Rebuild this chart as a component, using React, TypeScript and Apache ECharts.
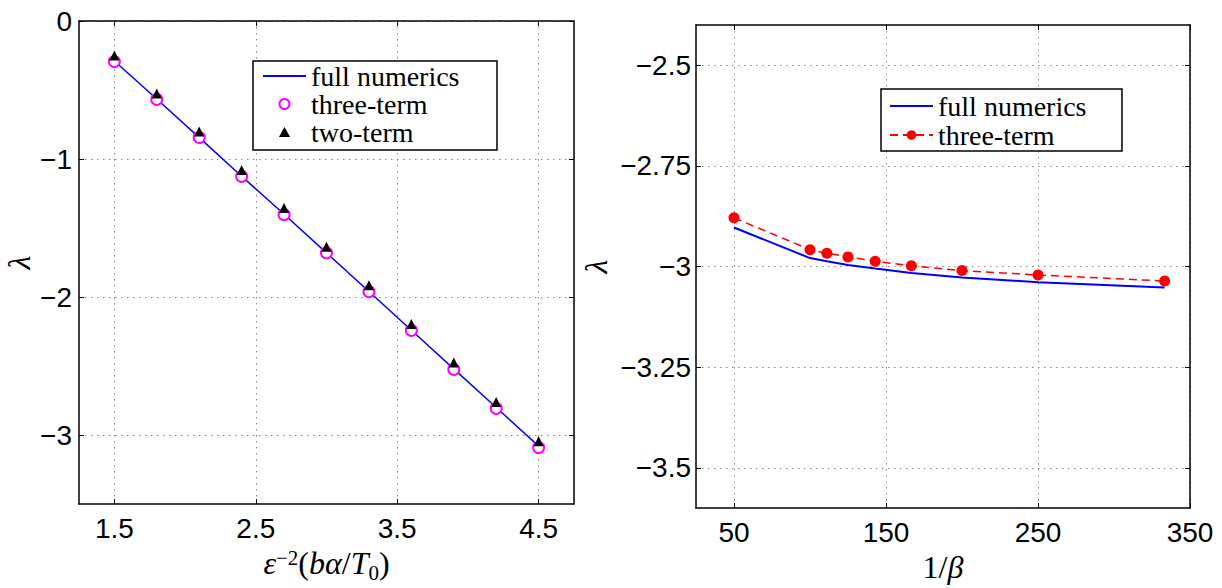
import React, { useEffect, useRef } from 'react';
import * as echarts from 'echarts';

// Left panel data
const leftX = [1.5, 1.8, 2.1, 2.4, 2.7, 3.0, 3.3, 3.6, 3.9, 4.2, 4.5];
const leftFull = [-0.29, -0.565, -0.845, -1.125, -1.4, -1.68, -1.96, -2.24, -2.52, -2.8, -3.08];
const leftThree = [-0.294, -0.568, -0.844, -1.126, -1.403, -1.68, -1.961, -2.242, -2.524, -2.807, -3.09];
const leftTwo = [-0.25, -0.525, -0.8, -1.08, -1.355, -1.635, -1.915, -2.195, -2.475, -2.76, -3.045];

// Right panel data
const rightX = [50, 100, 111.1, 125, 142.9, 166.7, 200, 250, 333.3];
const rightFull = [-2.903, -2.979, -2.987, -2.996, -3.005, -3.016, -3.027, -3.039, -3.052];
const rightThree = [-2.879, -2.958, -2.967, -2.976, -2.987, -2.998, -3.01, -3.021, -3.036];

// Tick labels
const leftXTicks = [1.5, 2.5, 3.5, 4.5];
const leftYTicks = [0, -1, -2, -3];
const rightXTicks = [50, 150, 250, 350];
const rightYTicks = [-2.5, -2.75, -3, -3.25, -3.5];

const leftLegend = ['full numerics', 'three-term', 'two-term'];
const rightLegend = ['R: full numerics', 'R: three-term'];

const zip = (xs: number[], ys: number[]) => xs.map((x, i) => [x, ys[i]]);
const fmt = (v: number) => String(v).replace('-', '\u2212');

const SANS = '"Liberation Sans", Arial, Helvetica, sans-serif';
const SERIF = '"Liberation Serif", "Times New Roman", serif';

function mainAxis(gridIndex: number, min: number, max: number, ticks: number[], extra: any) {
  return {
    type: 'value',
    gridIndex,
    min,
    max,
    axisLine: { show: true, onZero: false, lineStyle: { color: '#000', width: 1.5 } },
    axisTick: { show: true, inside: true, length: 5, customValues: ticks, lineStyle: { color: '#000', width: 1 } },
    axisLabel: {
      show: true,
      customValues: ticks,
      formatter: (v: number) => fmt(v),
      fontSize: 28,
      fontFamily: SANS,
      color: '#000',
      margin: 10,
    },
    splitLine: { show: true, lineStyle: { color: '#888', width: 1, type: [1.5, 4.5] } },
    ...extra,
  };
}

function sideAxis(gridIndex: number, min: number, max: number, ticks: number[], position: string) {
  return {
    type: 'value',
    gridIndex,
    min,
    max,
    position,
    axisLine: { show: true, onZero: false, lineStyle: { color: '#000', width: 1.5 } },
    axisTick: { show: true, inside: true, length: 5, customValues: ticks, lineStyle: { color: '#000', width: 1 } },
    axisLabel: { show: false },
    splitLine: { show: false },
  };
}

export default function App() {
  const ref = useRef<HTMLDivElement>(null);
  useEffect(() => {
    document.body.style.margin = '0';
    if (!ref.current) return;
    const chart = echarts.init(ref.current, undefined, { renderer: 'svg' });
    const legendText = { fontFamily: SERIF, fontSize: 28, lineHeight: 26, color: '#000' };
    const hideDot = { opacity: 0 };
    const option: any = {
      animation: false,
      backgroundColor: '#fff',
      grid: [
        { left: 79, top: 21, width: 495, height: 495 },
        { left: 696, top: 25, width: 494, height: 493 },
      ],
      xAxis: [
        mainAxis(0, 1.25, 4.75, leftXTicks, {
          position: 'bottom',
          name: '{it|\u03b5}{sup|\u22122}{n|(}{it|b\u03b1}{n|/}{it|T}{sub|0}{n|)}',
          nameLocation: 'middle',
          nameGap: 42,
          nameTextStyle: {
            fontFamily: SERIF,
            fontSize: 32,
            color: '#000',
            rich: {
              it: { fontFamily: SERIF, fontSize: 32, fontStyle: 'italic', color: '#000', verticalAlign: 'bottom' },
              n: { fontFamily: SERIF, fontSize: 32, color: '#000', verticalAlign: 'bottom' },
              sup: { fontFamily: SERIF, fontSize: 21, color: '#000', verticalAlign: 'top' },
              sub: { fontFamily: SERIF, fontSize: 21, color: '#000', verticalAlign: 'bottom', padding: [0, 0, -4, 0] },
            },
          },
        }),
        sideAxis(0, 1.25, 4.75, leftXTicks, 'top'),
        mainAxis(1, 25, 350, rightXTicks, {
          position: 'bottom',
          name: '{n|1/}{it|\u03b2}',
          nameLocation: 'middle',
          nameGap: 42,
          nameTextStyle: {
            fontFamily: SERIF,
            fontSize: 32,
            color: '#000',
            rich: {
              it: { fontFamily: SERIF, fontSize: 32, fontStyle: 'italic', color: '#000' },
              n: { fontFamily: SERIF, fontSize: 32, color: '#000' },
            },
          },
        }),
        sideAxis(1, 25, 350, rightXTicks, 'top'),
      ],
      yAxis: [
        mainAxis(0, -3.5, 0, leftYTicks, {
          position: 'left',
          name: '\u03bb',
          nameLocation: 'middle',
          nameGap: 44,
          nameTextStyle: { fontFamily: SERIF, fontSize: 32, fontStyle: 'italic', color: '#000' },
          axisLabel: {
            show: true,
            customValues: leftYTicks,
            formatter: (v: number) => fmt(v),
            fontSize: 28,
            fontFamily: SANS,
            color: '#000',
            margin: 7,
          },
        }),
        sideAxis(0, -3.5, 0, leftYTicks, 'right'),
        mainAxis(1, -3.6, -2.4, rightYTicks, {
          position: 'left',
          name: '\u03bb',
          nameLocation: 'middle',
          nameGap: 84,
          nameTextStyle: { fontFamily: SERIF, fontSize: 32, fontStyle: 'italic', color: '#000' },
          axisLabel: {
            show: true,
            customValues: rightYTicks,
            formatter: (v: number) => fmt(v),
            fontSize: 28,
            fontFamily: SANS,
            color: '#000',
            margin: 5,
          },
        }),
        sideAxis(1, -3.6, -2.4, rightYTicks, 'right'),
      ],
      legend: [
        {
          orient: 'vertical',
          left: 262,
          top: 62,
          padding: 0,
          itemGap: 0,
          itemWidth: 43,
          itemHeight: 10,
          data: [
            { name: leftLegend[0], itemStyle: hideDot },
            { name: leftLegend[1] },
            { name: leftLegend[2], icon: 'path://M5,0L10,9L0,9Z' },
          ],
          textStyle: legendText,
          selectedMode: false,
        },
        {
          orient: 'vertical',
          left: 889,
          top: 92,
          padding: 0,
          itemGap: 1,
          itemWidth: 43,
          itemHeight: 12,
          data: [{ name: rightLegend[0], itemStyle: hideDot }, { name: rightLegend[1] }],
          formatter: (n: string) => n.replace('R: ', ''),
          textStyle: legendText,
          selectedMode: false,
        },
      ],
      graphic: [
        {
          type: 'rect',
          z: 3,
          shape: { x: 253, y: 61, width: 244, height: 89 },
          style: { fill: '#fff', stroke: '#000', lineWidth: 1.5 },
        },
        {
          type: 'rect',
          z: 3,
          shape: { x: 881, y: 89, width: 241, height: 62 },
          style: { fill: '#fff', stroke: '#000', lineWidth: 1.5 },
        },
      ],
      series: [
        {
          name: 'full numerics',
          type: 'line',
          xAxisIndex: 0,
          yAxisIndex: 0,
          data: zip(leftX, leftFull),
          symbol: 'none',
          lineStyle: { color: '#0000ff', width: 1.5 },
          itemStyle: { color: '#0000ff' },
          z: 2,
        },
        {
          name: 'three-term',
          type: 'scatter',
          xAxisIndex: 0,
          yAxisIndex: 0,
          data: zip(leftX, leftThree),
          symbol: 'emptyCircle',
          symbolSize: 11,
          itemStyle: { color: '#ff00ff', borderColor: '#ff00ff', borderWidth: 1.8, opacity: 1 },
          z: 3,
        },
        {
          name: 'two-term',
          type: 'scatter',
          xAxisIndex: 0,
          yAxisIndex: 0,
          data: zip(leftX, leftTwo),
          symbol: 'triangle',
          symbolSize: 10,
          itemStyle: { color: '#000', opacity: 1 },
          z: 4,
        },
        {
          name: 'R: full numerics',
          type: 'line',
          xAxisIndex: 2,
          yAxisIndex: 2,
          data: zip(rightX, rightFull),
          symbol: 'none',
          lineStyle: { color: '#0000ff', width: 2 },
          itemStyle: { color: '#0000ff' },
          z: 2,
        },
        {
          name: 'R: three-term',
          type: 'line',
          xAxisIndex: 2,
          yAxisIndex: 2,
          data: zip(rightX, rightThree),
          symbol: 'circle',
          symbolSize: 11,
          showSymbol: true,
          lineStyle: { color: '#ff0000', width: 1.5, type: [8, 5] },
          itemStyle: { color: '#ff0000' },
          z: 3,
        },
      ],
    };
    chart.setOption(option);
    return () => chart.dispose();
  }, []);
  return <div ref={ref} style={{ width: 1222, height: 588 }} />;
}
